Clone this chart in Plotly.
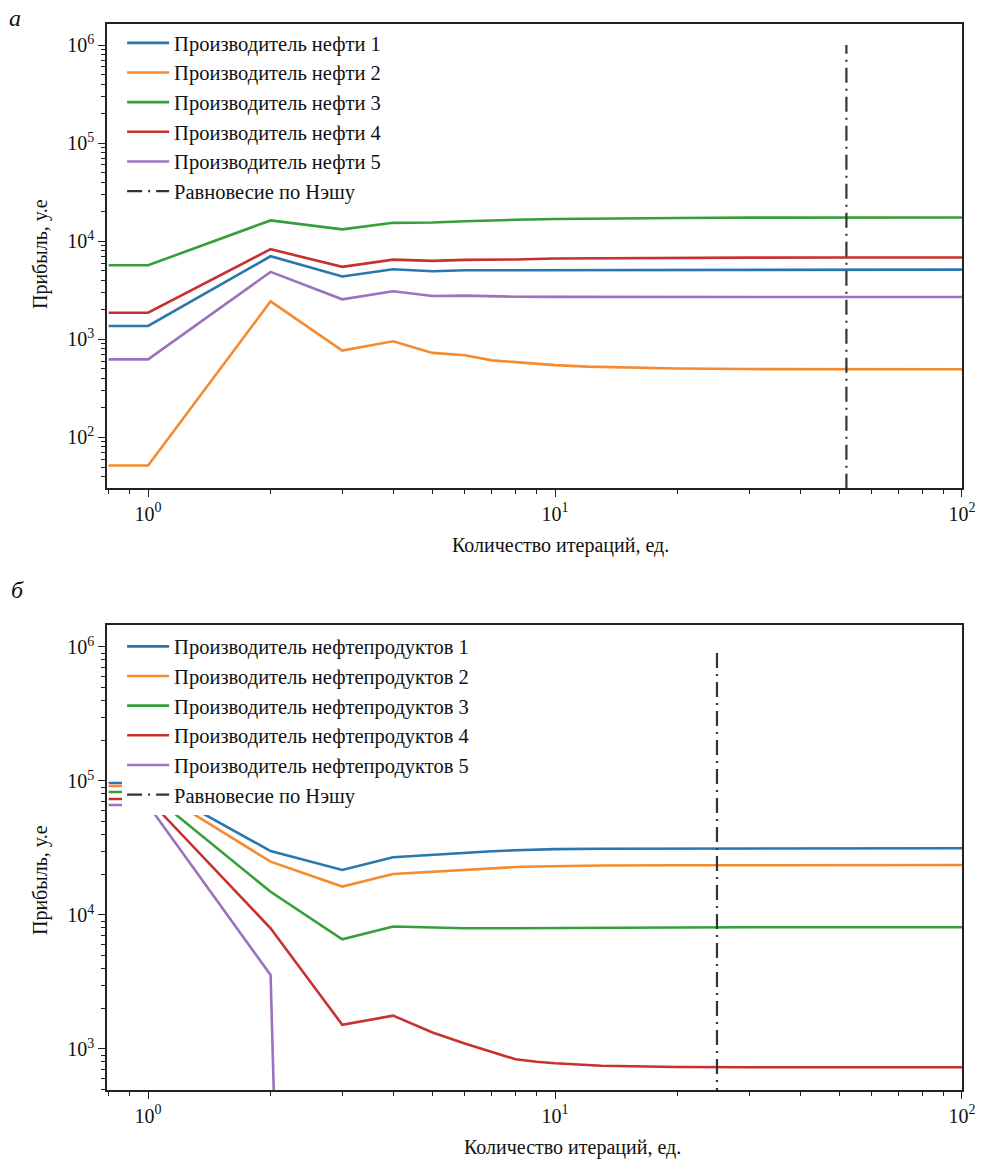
import plotly.graph_objects as go
import numpy as np

W, H = 996, 1170
EFF_W = 981  # horizontal extent actually available to the figure in the viewer

# ---------------- Data: panel "а" (oil producers) ----------------
iters_a = [0.8, 1, 2, 3, 4, 5, 6, 7, 8, 10, 12, 15, 20, 30, 50, 100]
oil_1 = [1370, 1370, 7030, 4370, 5180, 4940, 5060, 5060, 5080, 5110, 5120, 5130, 5140, 5140, 5140, 5140]
oil_2 = [51.8, 51.8, 2440, 767, 955, 728, 688, 611, 586, 546, 527, 515, 505, 498, 495, 495]
oil_3 = [5690, 5690, 16300, 13200, 15400, 15500, 16000, 16370, 16550, 16850, 17000, 17150, 17250, 17400, 17450, 17450]
oil_4 = [1870, 1870, 8290, 5480, 6500, 6300, 6460, 6460, 6520, 6660, 6700, 6740, 6770, 6800, 6820, 6820]
oil_5 = [625, 625, 4870, 2560, 3090, 2770, 2790, 2730, 2720, 2710, 2705, 2700, 2700, 2700, 2700, 2700]
nash_a = 52

# ---------------- Data: panel "б" (oil product producers) ----------------
iters_b = [0.8, 1, 2, 3, 4, 5, 6, 7, 8, 9, 10, 13, 20, 30, 50, 100]
prod_1 = [96600, 96600, 30000, 21700, 27000, 28200, 29100, 29900, 30400, 30800, 31000, 31200, 31300, 31500, 31500, 31500]
prod_2 = [91800, 91800, 25000, 16300, 20200, 21000, 21700, 22500, 22800, 23000, 23200, 23400, 23500, 23600, 23600, 23600]
prod_3 = [82800, 82800, 14900, 6590, 8200, 8040, 7960, 7960, 7960, 7980, 8000, 8030, 8060, 8090, 8090, 8090]
prod_4 = [73400, 73400, 7960, 1517, 1773, 1328, 1100, 951, 838, 804, 782, 750, 734, 730, 730, 730]
prod_5 = [66200, 66200, 3570, 0, 0, 0, 0, 0, 0, 0, 0, 0, 0, 0, 0, 0]
nash_b = 25
nash_profit = [1, 1e6]

names_a = ["Производитель нефти 1", "Производитель нефти 2", "Производитель нефти 3",
           "Производитель нефти 4", "Производитель нефти 5"]
names_b = ["Производитель нефтепродуктов 1", "Производитель нефтепродуктов 2",
           "Производитель нефтепродуктов 3", "Производитель нефтепродуктов 4",
           "Производитель нефтепродуктов 5"]
nash_name = "Равновесие по Нэшу"
x_title = "Количество итераций, ед."
y_title = "Прибыль, у.е"

colors = ["#2a77b0", "#f58b2e", "#35a03a", "#c8312f", "#9a72bf"]
FONT = "Liberation Serif"


def px_x(p):
    return p / EFF_W


def px_y(p):
    return 1 - p / H


fig = go.Figure()

series_a = [oil_1, oil_2, oil_3, oil_4, oil_5]
for i, (nm, ys) in enumerate(zip(names_a, series_a)):
    fig.add_trace(go.Scatter(x=iters_a, y=ys, mode="lines", name=nm,
                             line=dict(color=colors[i], width=2.6),
                             xaxis="x", yaxis="y", legend="legend"))
fig.add_trace(go.Scatter(x=[nash_a, nash_a], y=nash_profit, mode="lines", name=nash_name,
                         line=dict(color="#333333", width=2.2, dash="15px,6px,2px,6px"),
                         xaxis="x", yaxis="y", legend="legend"))

series_b = [prod_1, prod_2, prod_3, prod_4, prod_5]
for i, (nm, ys) in enumerate(zip(names_b, series_b)):
    yv = np.where(np.array(ys, dtype=float) > 0, ys, 1e-30)
    fig.add_trace(go.Scatter(x=iters_b, y=yv, mode="lines", name=nm,
                             line=dict(color=colors[i], width=2.6),
                             xaxis="x2", yaxis="y2", legend="legend2"))
fig.add_trace(go.Scatter(x=[nash_b, nash_b], y=nash_profit, mode="lines", name=nash_name,
                         line=dict(color="#333333", width=2.2, dash="15px,6px,2px,6px"),
                         xaxis="x2", yaxis="y2", legend="legend2"))

x_major = [1, 10, 100]
x_text = ["10<sup>0</sup>", "10<sup>1</sup>", "10<sup>2</sup>"]
x_minor = [m * 10 ** d for d in (-1, 0, 1) for m in range(2, 10)]

y_major = [10 ** k for k in range(1, 7)]
y_text = ["10<sup>%d</sup>" % k for k in range(1, 7)]
y_minor = [m * 10 ** d for d in range(0, 7) for m in range(2, 10)]

tickfont = dict(family=FONT, size=20, color="#111")

common_x = dict(type="log", showgrid=False, zeroline=False, showline=True, linecolor="#222",
                linewidth=1.5, mirror=True, ticks="outside", ticklen=7, tickwidth=1.4,
                tickcolor="#222", tickvals=x_major, ticktext=x_text, tickfont=tickfont,
                minor=dict(tickvals=x_minor, ticks="outside", ticklen=4, tickwidth=1.2,
                           tickcolor="#222", showgrid=False))
common_y = dict(type="log", showgrid=False, zeroline=False, showline=True, linecolor="#222",
                linewidth=1.5, mirror=True, ticks="outside", ticklen=7, tickwidth=1.4,
                tickcolor="#222", tickvals=y_major, ticktext=y_text, tickfont=tickfont,
                minor=dict(tickvals=y_minor, ticks="outside", ticklen=4, tickwidth=1.2,
                           tickcolor="#222", showgrid=False))

legend_common = dict(xanchor="left", yanchor="top", borderwidth=0,
                     font=dict(family=FONT, size=20.5, color="#111"),
                     tracegroupgap=0, itemwidth=42, traceorder="normal")

fig.update_layout(
    width=W, height=H, autosize=False,
    margin=dict(l=0, r=0, t=0, b=0),
    paper_bgcolor="white", plot_bgcolor="white",
    font=dict(family=FONT, size=20, color="#111"),
    xaxis=dict(common_x, domain=[px_x(107), px_x(961)], range=[-0.1007, 2.0], anchor="y"),
    yaxis=dict(common_y, domain=[px_y(488), px_y(24)], range=[1.485, 6.214], anchor="x"),
    xaxis2=dict(common_x, domain=[px_x(107), px_x(961)], range=[-0.1007, 2.0], anchor="y2"),
    yaxis2=dict(common_y, domain=[px_y(1090), px_y(625)], range=[2.694, 6.164], anchor="x2"),
    legend=dict(legend_common, x=px_x(122), y=px_y(23), bgcolor="rgba(255,255,255,0)"),
    legend2=dict(legend_common, x=px_x(122), y=px_y(626.5), bgcolor="white"),
    showlegend=True,
    hovermode=False,
    annotations=[
        dict(text="<i>а</i>", x=px_x(15), y=px_y(18), xref="paper", yref="paper", showarrow=False,
             font=dict(family=FONT, size=24, color="#111"), xanchor="center", yanchor="middle"),
        dict(text="<i>б</i>", x=px_x(17), y=px_y(590), xref="paper", yref="paper", showarrow=False,
             font=dict(family=FONT, size=24, color="#111"), xanchor="center", yanchor="middle"),
        dict(text=x_title, x=px_x(560), y=px_y(545), xref="paper", yref="paper", showarrow=False,
             font=dict(family=FONT, size=20, color="#111"), xanchor="center", yanchor="middle"),
        dict(text=x_title, x=px_x(572), y=px_y(1147), xref="paper", yref="paper", showarrow=False,
             font=dict(family=FONT, size=20, color="#111"), xanchor="center", yanchor="middle"),
        dict(text=y_title, x=px_x(40), y=px_y(254), xref="paper", yref="paper", showarrow=False,
             textangle=-90, font=dict(family=FONT, size=20, color="#111"),
             xanchor="center", yanchor="middle"),
        dict(text=y_title, x=px_x(40), y=px_y(880), xref="paper", yref="paper", showarrow=False,
             textangle=-90, font=dict(family=FONT, size=20, color="#111"),
             xanchor="center", yanchor="middle"),
    ],
)

post = ("document.documentElement.style.overflow='hidden';"
        "document.body.style.margin='0';document.body.style.overflow='hidden';")

fig.write_html("out.html",
               config={"responsive": False, "displayModeBar": False},
               post_script=post)
